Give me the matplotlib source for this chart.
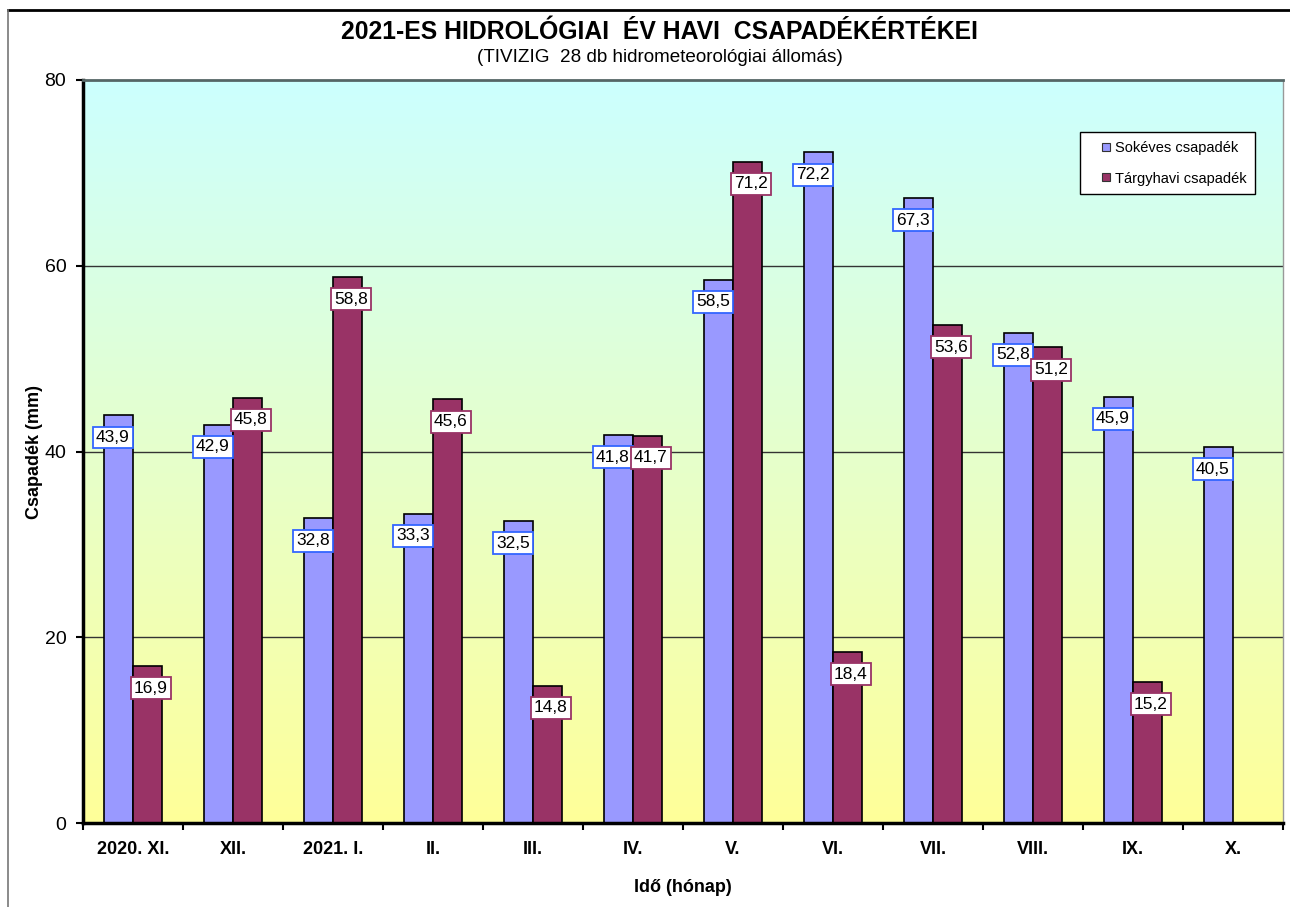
import matplotlib
import matplotlib.pyplot as plt
import numpy as np
from matplotlib.lines import Line2D

matplotlib.use("Agg")

plt.rcParams["font.family"] = ["Liberation Sans", "DejaVu Sans"]

months = ["2020. XI.", "XII.", "2021. I.", "II.", "III.", "IV.",
          "V.", "VI.", "VII.", "VIII.", "IX.", "X."]
sokeves = [43.9, 42.9, 32.8, 33.3, 32.5, 41.8, 58.5, 72.2, 67.3, 52.8, 45.9, 40.5]
targyhavi = [16.9, 45.8, 58.8, 45.6, 14.8, 41.7, 71.2, 18.4, 53.6, 51.2, 15.2, np.nan]
y_ticks = [0, 20, 40, 60, 80]

BLUE = "#9999FF"
MAROON = "#993366"

fig = plt.figure(figsize=(12.9, 9.07), dpi=100)
ax = fig.add_axes([0.0643, 0.0926, 0.9303, 0.8192])

x = np.arange(len(months))
w = 0.29

# background gradient: yellow at bottom -> cyan at top
top_c = np.array([204, 255, 255]) / 255
bot_c = np.array([255, 255, 153]) / 255
t = np.linspace(0, 1, 256)[:, None]
grad = (bot_c * (1 - t) + top_c * t)[:, None, :]
ax.imshow(grad, extent=[-0.5, 11.5, 0, 80], origin="lower", aspect="auto", zorder=0)

for yv in y_ticks[1:-1]:
    ax.axhline(yv, color="#333333", lw=1.0, zorder=1)

ax.bar(x - w / 2, sokeves, w, color=BLUE, edgecolor="black", lw=1.2, zorder=2)
ax.bar(x + w / 2, targyhavi, w, color=MAROON, edgecolor="black", lw=1.2, zorder=2)


def add_labels(xs, vals, edge, dx):
    for xi, v in zip(xs, vals):
        if np.isnan(v):
            continue
        ax.annotate(f"{v:.1f}".replace(".", ","), (xi, v), xytext=(dx, -16),
                    textcoords="offset points", ha="center", va="center", fontsize=12.5,
                    zorder=4,
                    bbox=dict(boxstyle="square,pad=0.2", fc="white", ec=edge, lw=1.3))


add_labels(x - w / 2, sokeves, "#3366FF", -4)
add_labels(x + w / 2, targyhavi, MAROON, 2.5)

ax.set_xlim(-0.5, 11.5)
ax.set_ylim(0, 80)
ax.set_yticks(y_ticks)
ax.tick_params(axis="y", labelsize=14, width=1.5, length=5, direction="out", pad=7)

ax.set_xticks(np.arange(-0.5, 12, 1))
ax.set_xticklabels([])
ax.tick_params(axis="x", which="major", width=1.5, length=5, direction="out")
ax.set_xticks(x, minor=True)
ax.set_xticklabels(months, minor=True, fontweight="bold", fontsize=13)
ax.tick_params(axis="x", which="minor", length=0, pad=13)

for s in ["left", "bottom"]:
    ax.spines[s].set_linewidth(2.5)
ax.spines["top"].set_color("#556666")
ax.spines["top"].set_linewidth(2.0)
ax.spines["right"].set_color("#999999")
ax.spines["right"].set_linewidth(1.0)

ax.set_ylabel("Csapadék (mm)", fontweight="bold", fontsize=13)
ax.yaxis.set_label_coords(-0.033, 0.5)
ax.set_xlabel("Idő (hónap)", fontweight="bold", fontsize=13)
ax.xaxis.set_label_coords(0.5, -0.075)

handles = [Line2D([], [], ls="none", marker="s", ms=5.5, mfc=BLUE, mec="#333333", mew=0.8),
           Line2D([], [], ls="none", marker="s", ms=5.5, mfc=MAROON, mec="#333333", mew=0.8)]
leg = ax.legend(handles, ["Sokéves csapadék", "Tárgyhavi csapadék"],
                loc="upper right", bbox_to_anchor=(0.9767, 0.930), fontsize=10.5,
                fancybox=False, edgecolor="black", framealpha=1, handlelength=2.4,
                handletextpad=-0.6, labelspacing=1.15, borderpad=0.6, borderaxespad=0)
leg.get_frame().set_linewidth(1.0)

fig.text(0.5116, 0.9647, "2021-ES HIDROLÓGIAI  ÉV HAVI  CSAPADÉKÉRTÉKEI",
         ha="center", va="center", fontsize=17.8, fontweight="bold")
fig.text(0.5116, 0.937, "(TIVIZIG  28 db hidrometeorológiai állomás)",
         ha="center", va="center", fontsize=13.6)

# outer chart frame (top and left edges visible)
fig.add_artist(Line2D([0.0062, 1.0], [0.9895, 0.9895], color="black", lw=2.0))
fig.add_artist(Line2D([0.0062, 0.0062], [0.0, 0.9895], color="#777777", lw=1.2))

fig.savefig("out.png", dpi=100)
